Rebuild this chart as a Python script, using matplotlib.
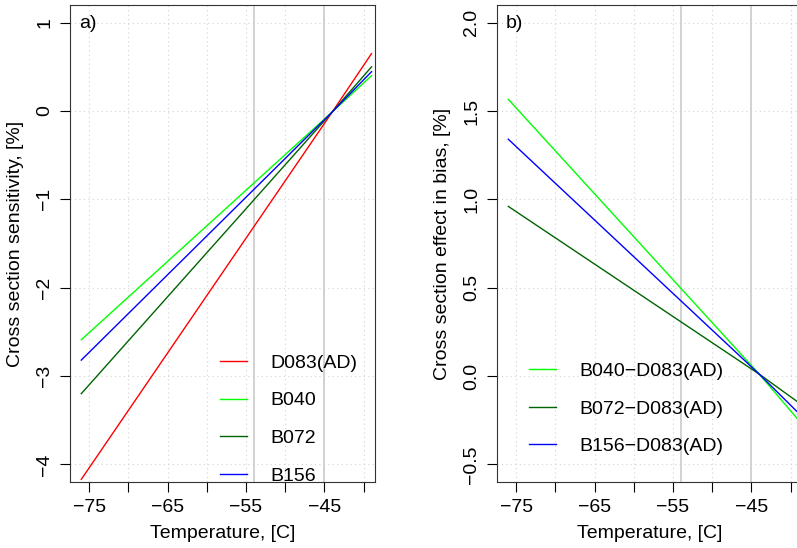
import matplotlib.pyplot as plt
import numpy as np

plt.rcParams['font.family'] = ['Liberation Sans', 'DejaVu Sans']

# temperature points (C)
temp = [-76, -44, -39]

# panel a) cross section sensitivity, [%]
d083 = [-4.17, -0.01, 0.65]
b040 = [-2.59, -0.01, 0.40]
b072 = [-3.20, -0.01, 0.50]
b156 = [-2.82, -0.01, 0.445]

# panel b) effect in bias, [%]
b040_d = [1.566, 0.01, -0.25]
b072_d = [0.96, 0.01, -0.15]
b156_d = [1.34, 0.01, -0.21]

vlines = [-54, -45]

fs = 14

fig = plt.figure(figsize=(7.97, 5.48), dpi=100)
axA = fig.add_axes([0.0878, 0.1204, 0.3827, 0.8705])
axB = fig.add_axes([0.6236, 0.1204, 0.3827, 0.8705])


def style(ax, ylim, yticks, ylabels, ylab, tag):
    ax.set_xlim(-77.44, -38.56)
    ax.set_ylim(ylim)
    xt = np.arange(-75, -39, 5)
    ax.set_xticks(xt)
    ax.set_xticklabels(['\u221275', '', '\u221265', '', '\u221255', '', '\u221245', ''])
    ax.set_yticks(yticks)
    ax.set_yticklabels(ylabels, rotation=90, va='center')
    for t in xt:
        ax.axvline(t, color='#d3d3d3', ls=(0, (1, 3)), lw=0.8, zorder=0)
    for t in yticks:
        ax.axhline(t, color='#d3d3d3', ls=(0, (1, 3)), lw=0.8, zorder=0)
    for v in vlines:
        ax.axvline(v, color='#cfcfcf', lw=1.3, zorder=1)
    ax.tick_params(direction='out', length=7, width=0.8, labelsize=fs, pad=5)
    for s in ax.spines.values():
        s.set_linewidth(0.8)
        s.set_color('#333333')
    ax.set_xlabel('Temperature, [C]', fontsize=fs, labelpad=7)
    ax.set_ylabel(ylab, fontsize=fs, labelpad=9)
    ax.text(0.03, 0.978, tag, transform=ax.transAxes, fontsize=fs, va='top')


leg_kw = dict(frameon=False, fontsize=fs, handlelength=1.4, handletextpad=1.2,
              labelspacing=1.03, borderpad=0, borderaxespad=0, loc='upper left')

style(axA, (-4.2, 1.2), [-4, -3, -2, -1, 0, 1],
      ['\u22124', '\u22123', '\u22122', '\u22121', '0', '1'],
      'Cross section sensitivity, [%]', 'a)')
axA.plot(temp, d083, color='#ff0000', lw=1, label='D083(AD)')
axA.plot(temp, b040, color='#00ff00', lw=1, label='B040')
axA.plot(temp, b072, color='#006400', lw=1, label='B072')
axA.plot(temp, b156, color='#0000ff', lw=1, label='B156')
axA.legend(bbox_to_anchor=(0.492, 0.268), **leg_kw)

style(axB, (-0.6, 2.1), [-0.5, 0.0, 0.5, 1.0, 1.5, 2.0],
      ['\u22120.5', '0.0', '0.5', '1.0', '1.5', '2.0'],
      'Cross section effect in bias, [%]', 'b)')
axB.plot(temp, b040_d, color='#00ff00', lw=1, label='B040\u2212D083(AD)')
axB.plot(temp, b072_d, color='#006400', lw=1, label='B072\u2212D083(AD)')
axB.plot(temp, b156_d, color='#0000ff', lw=1, label='B156\u2212D083(AD)')
axB.legend(bbox_to_anchor=(0.105, 0.251), **leg_kw)

fig.savefig('out.png', dpi=100)
